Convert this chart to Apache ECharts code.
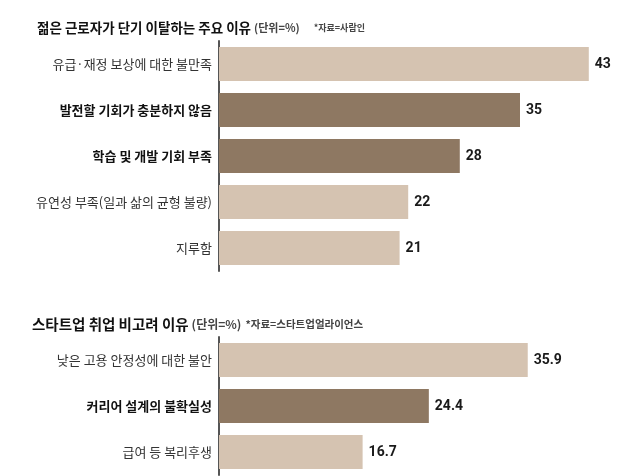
<!DOCTYPE html>
<html>
<head>
<meta charset="utf-8">
<script src="https://cdn.jsdelivr.net/npm/echarts@6/dist/echarts.min.js"></script>
<style>
  html, body { margin: 0; padding: 0; background: #fff; }
  #chart { width: 622px; height: 476px; }
</style>
</head>
<body>
<div id="chart"></div>
<script>
// 젊은 근로자 단기 이탈 이유
const topCategories = ['유급·재정 보상에 대한 불만족', '발전할 기회가 충분하지 않음', '학습 및 개발 기회 부족', '유연성 부족(일과 삶의 균형 불량)', '지루함'];
const topValues = [43, 35, 28, 22, 21];
const topHighlight = [false, true, true, false, false];

// 스타트업 취업 비고려 이유
const bottomCategories = ['낮은 고용 안정성에 대한 불안', '커리어 설계의 불확실성', '급여 등 복리후생'];
const bottomValues = [35.9, 24.4, 16.7];
const bottomHighlight = [false, true, false];

const LIGHT = '#d5c3b1';
const DARK = '#8e7862';
const KR = '"Noto Sans CJK KR", "Noto Sans", sans-serif';
const NUM = 'Roboto, "Liberation Sans", sans-serif';

const chart = echarts.init(document.getElementById('chart'));

function yAxisFor(cats, hl, idx) {
  return {
    type: 'category',
    gridIndex: idx,
    data: cats,
    inverse: true,
    axisLine: { show: true, lineStyle: { color: '#555', width: 2 } },
    axisTick: { show: false },
    axisLabel: {
      margin: 7,
      formatter: function (v) {
        const i = cats.indexOf(v);
        return hl[i] ? '{b|' + v + '}' : '{n|' + v + '}';
      },
      rich: {
        n: { fontFamily: KR, fontSize: 13, color: '#333' },
        b: { fontFamily: KR, fontSize: 13, fontWeight: 'bold', color: '#111' }
      }
    }
  };
}

function seriesFor(vals, hl, idx) {
  return {
    type: 'bar',
    xAxisIndex: idx,
    yAxisIndex: idx,
    barWidth: 34,
    data: vals.map((v, i) => ({ value: v, itemStyle: { color: hl[i] ? DARK : LIGHT } })),
    label: {
      show: true,
      position: 'right',
      distance: 6,
      fontFamily: NUM,
      fontWeight: 'bold',
      fontSize: 14,
      color: '#1a1a1a'
    },
    silent: true
  };
}

chart.setOption({
  animation: false,
  backgroundColor: '#fff',
  title: [
    {
      left: 32, top: 16,
      text: '{t|젊은 근로자가 단기 이탈하는 주요 이유}{u|(단위=%)}{s|*자료=사람인}',
      textStyle: {
        rich: {
          t: { fontFamily: KR, fontSize: 13.5, fontWeight: 'bold', color: '#111' },
          u: { fontFamily: KR, fontSize: 11, color: '#444', padding: [0, 0, 0, 3] },
          s: { fontFamily: KR, fontSize: 9, color: '#444', padding: [0, 0, 0, 14] }
        }
      }
    },
    {
      left: 27, top: 312,
      text: '{t|스타트업 취업 비고려 이유}{u|(단위=%)}{s|*자료=스타트업얼라이언스}',
      textStyle: {
        rich: {
          t: { fontFamily: KR, fontSize: 14.5, fontWeight: 'bold', color: '#111' },
          u: { fontFamily: KR, fontSize: 12, color: '#444', padding: [0, 0, 0, 3] },
          s: { fontFamily: KR, fontSize: 10.5, color: '#444', padding: [0, 0, 0, 4] }
        }
      }
    }
  ],
  grid: [
    { left: 219, top: 41, width: 387, height: 230 },
    { left: 219, top: 337, width: 387, height: 138 }
  ],
  xAxis: [
    { type: 'value', gridIndex: 0, min: 0, max: 45, show: false },
    { type: 'value', gridIndex: 1, min: 0, max: 45, show: false }
  ],
  yAxis: [
    yAxisFor(topCategories, topHighlight, 0),
    yAxisFor(bottomCategories, bottomHighlight, 1)
  ],
  series: [
    seriesFor(topValues, topHighlight, 0),
    seriesFor(bottomValues, bottomHighlight, 1)
  ]
});
</script>
</body>
</html>
